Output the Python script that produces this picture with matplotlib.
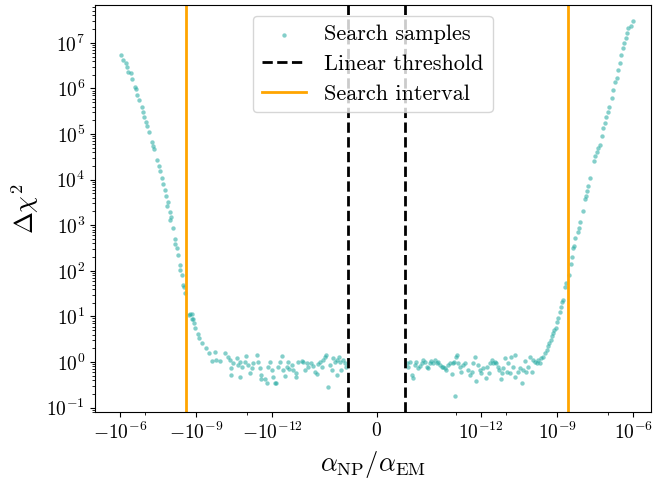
import numpy as np
import matplotlib
matplotlib.use("Agg")
from matplotlib import pyplot as plt

plt.rcParams['font.family'] = 'serif'
plt.rcParams['font.serif'] = ['cmr10', 'DejaVu Serif']
plt.rcParams['mathtext.fontset'] = 'cm'
plt.rcParams['axes.formatter.use_mathtext'] = True
plt.rcParams['axes.unicode_minus'] = False

# search samples as log10|alpha| and log10(delta chi^2)
neg_logalpha = [-6.07, -6.13, -6.24, -6.27, -6.33, -6.44, -6.50, -6.60, -6.66, -6.70,
                -6.77, -6.88, -6.92, -6.96, -7.03, -7.08, -7.16, -7.28, -7.32, -7.36,
                -7.45, -7.55, -7.58, -7.65, -7.71, -7.78, -7.84, -7.91, -7.87, -7.97,
                -8.04, -8.00, -8.08, -8.17, -8.17, -8.24, -8.30, -8.37, -8.39, -8.46,
                -8.50, -8.52, -8.58, -8.76, -8.85, -8.73, -8.83, -8.87, -8.92, -8.96,
                -9.09, -9.13, -9.26, -9.39, -9.52, -9.65, -9.75, -9.81, -9.94, -10.14,
                -10.27, -10.34, -10.40, -10.47, -10.60, -10.66, -10.73, -10.80, -10.40, -10.73,
                -10.93, -10.99, -11.06, -11.12, -11.19, -11.25, -11.39, -11.45, -11.52, -11.58,
                -11.58, -11.71, -11.80, -11.84, -11.91, -11.98, -12.02, -12.11, -12.17, -12.24,
                -12.30, -12.37, -12.41, -12.50, -12.57, -12.63, -12.67, -12.77, -12.83, -12.96,
                -12.96, -13.02, -13.16, -13.22, -13.29, -13.36, -13.42, -13.55, -13.62, -13.68,
                -13.75, -13.81, -13.88, -13.95, -14.01, -14.08, -14.14, -14.21, -14.27, -14.34,
                -14.40, -14.47, -14.54, -14.56, -14.64, -14.69, -14.73, -14.80, -14.86, -14.90]
neg_logchi2 = [6.74, 6.63, 6.55, 6.48, 6.37, 6.34, 6.20, 6.04, 5.98, 5.86,
               5.75, 5.60, 5.49, 5.38, 5.27, 5.18, 5.05, 4.83, 4.74, 4.67,
               4.42, 4.29, 4.18, 4.03, 3.91, 3.77, 3.65, 3.50, 3.42, 3.28,
               3.18, 3.12, 2.93, 2.69, 2.58, 2.49, 2.35, 2.12, 2.02, 1.90,
               1.69, 1.64, 1.51, 1.05, 0.94, 1.03, 1.05, 0.94, 0.85, 0.74,
               0.61, 0.52, 0.41, 0.30, 0.19, 0.03, 0.21, 0.04, 0.03, 0.19,
               0.12, 0.04, -0.14, -0.02, 0.08, -0.07, 0.01, -0.10, -0.29, -0.32,
               0.01, 0.13, -0.07, -0.25, -0.14, -0.03, 0.15, 0.01, -0.14, -0.29,
               -0.38, -0.38, -0.47, -0.10, 0.01, -0.18, -0.34, -0.47, -0.47, -0.10,
               0.01, 0.13, -0.18, -0.31, -0.10, 0.01, -0.16, -0.07, -0.18, -0.34,
               -0.25, 0.01, 0.03, 0.01, -0.18, -0.02, -0.10, -0.03, -0.09, -0.21,
               -0.26, -0.04, 0.01, -0.10, 0.04, 0.12, 0.15, -0.54, -0.07, -0.18,
               0.08, 0.01, -0.29, 0.04, 0.12, 0.01, -0.18, 0.04, -0.03, -0.10]

pos_logalpha = [-14.93, -14.87, -14.80, -14.73, -14.67, -14.60, -14.54, -14.47, -14.41, -14.34,
                -14.28, -14.21, -14.14, -14.08, -14.01, -13.95, -13.88, -13.82, -13.75, -13.69,
                -13.62, -13.55, -13.49, -13.42, -13.36, -13.29, -13.23, -13.16, -13.12, -13.07,
                -13.03, -12.99, -12.96, -12.90, -12.83, -12.77, -12.70, -12.64, -12.51, -12.44,
                -12.37, -12.31, -12.24, -12.20, -12.11, -12.04, -12.01, -11.94, -11.81, -11.76,
                -11.68, -11.65, -11.58, -11.52, -11.45, -11.39, -11.35, -11.28, -11.22, -11.19,
                -11.13, -11.06, -10.99, -10.93, -10.86, -10.80, -10.73, -10.67, -10.67, -10.54,
                -10.47, -10.40, -10.34, -10.27, -10.21, -10.14, -10.08, -10.01, -9.95, -9.88,
                -9.81, -9.75, -9.68, -9.62, -9.55, -9.49, -9.42, -9.38, -9.32, -9.26,
                -9.22, -9.16, -9.12, -9.06, -9.02, -8.96, -8.89, -8.86, -8.82, -8.79,
                -8.70, -8.67, -8.53, -8.47, -8.43, -8.37, -8.33, -8.28, -8.20, -8.15,
                -8.11, -8.00, -7.91, -7.87, -7.84, -7.78, -7.71, -7.56, -7.51, -7.45,
                -7.39, -7.32, -7.25, -7.19, -7.12, -7.06, -6.99, -6.95, -6.86, -6.80,
                -6.73, -6.66, -6.60, -6.53, -6.47, -6.40, -6.38, -6.30, -6.25, -6.21,
                -6.11, -6.01]
pos_logchi2 = [-0.03, -0.10, 0.01, -0.29, -0.36, -0.07, 0.01, -0.14, -0.09, -0.03,
               0.04, 0.01, -0.10, -0.14, -0.03, 0.03, -0.02, 0.04, -0.03, 0.01,
               -0.07, -0.12, -0.10, -0.14, -0.18, -0.07, -0.03, -0.27, -0.03, 0.01,
               -0.74, 0.12, 0.15, -0.02, -0.10, -0.21, -0.07, -0.03, -0.18, -0.29,
               -0.21, -0.02, 0.12, -0.42, -0.07, -0.18, -0.25, -0.14, -0.36, -0.10,
               -0.25, -0.02, 0.04, -0.03, 0.01, -0.03, -0.10, -0.18, -0.38, -0.25,
               -0.14, 0.08, -0.21, -0.03, -0.25, 0.12, -0.10, 0.15, -0.32, -0.21,
               -0.14, -0.47, -0.18, 0.03, -0.21, -0.10, 0.10, -0.21, 0.04, 0.01,
               -0.03, 0.04, -0.02, 0.08, 0.12, 0.19, 0.26, 0.34, 0.41, 0.48,
               0.56, 0.63, 0.70, 0.74, 0.88, 0.96, 1.10, 1.21, 1.32, 1.36,
               1.64, 1.74, 1.91, 2.15, 2.31, 2.50, 2.55, 2.71, 2.86, 2.93,
               3.08, 3.32, 3.57, 3.63, 3.74, 3.86, 4.03, 4.41, 4.52, 4.61,
               4.69, 4.76, 4.96, 5.13, 5.24, 5.38, 5.49, 5.60, 5.79, 5.97,
               6.15, 6.23, 6.41, 6.55, 6.74, 6.88, 6.99, 7.10, 7.21, 7.32,
               7.36, 7.47]

linthresh = 1e-15
search_lo, search_hi = -2.4e-9, 2.6e-9

xticks_major = [-1e-6, -1e-9, -1e-12, 0, 1e-12, 1e-9, 1e-6]
xticks_minor = [-1e-7, -1e-11, 1e-13, 1e-11, 1e-7]
yticks = [10.0 ** k for k in range(-1, 8)]

alpha = np.concatenate([-10.0 ** np.array(neg_logalpha), 10.0 ** np.array(pos_logalpha)])
chi2 = 10.0 ** np.concatenate([neg_logchi2, pos_logchi2])

fig, ax = plt.subplots(figsize=(6.54, 4.87), dpi=100)
fig.subplots_adjust(left=0.145, right=0.995, bottom=0.154, top=0.99)

ax.scatter(alpha, chi2, s=10, color='#1fa89f', alpha=0.55, linewidths=0,
           label='Search samples')
ax.axvline(-linthresh, color='k', ls='--', lw=2, label='Linear threshold')
ax.axvline(linthresh, color='k', ls='--', lw=2)
ax.axvline(search_lo, color='orange', lw=2, label='Search interval')
ax.axvline(search_hi, color='orange', lw=2)

ax.set_xscale('symlog', linthresh=linthresh)
ax.set_yscale('log')
ax.set_xlim(-9.5e-6, 4.8e-6)
ax.set_ylim(0.08, 6.8e7)
ax.set_xticks(xticks_major)
ax.set_xticks(xticks_minor, minor=True)
ax.set_yticks(yticks)
ax.tick_params(labelsize=14)

ax.set_xlabel(r'$\alpha_{\rm NP}/\alpha_{\rm EM}$', fontsize=19)
ax.set_ylabel(r'$\Delta\chi^2$', fontsize=19)
ax.legend(loc='upper center', fontsize=16, labelspacing=0.45)

plt.savefig('out.png')
